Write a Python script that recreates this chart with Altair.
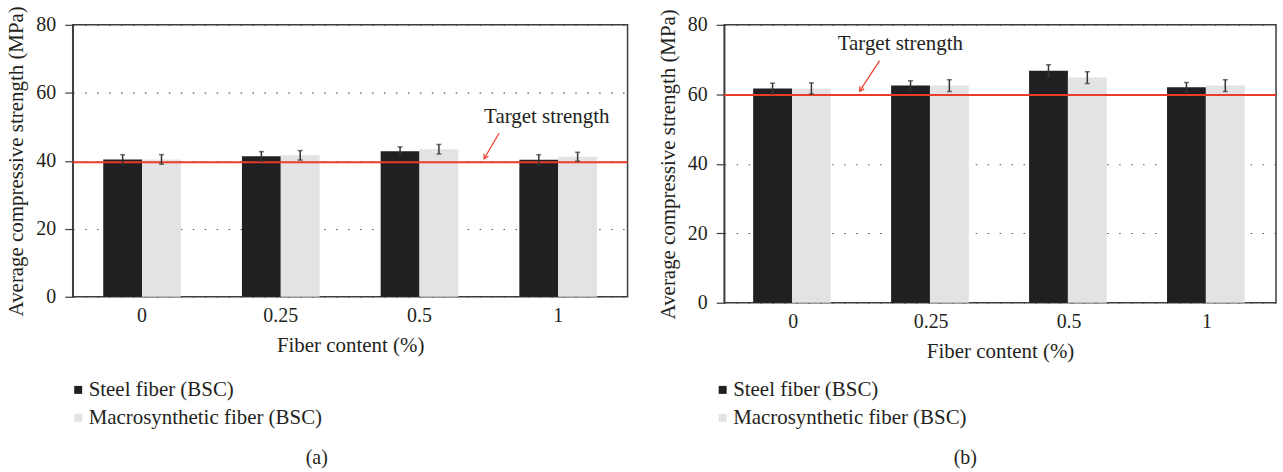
import altair as alt
import pandas as pd

FONT = "Liberation Serif"
TXT = "#231f20"
STEEL_C = "#1f2022"
MACRO_C = "#e3e3e3"
RED = "#ec3b26"

categories = ["0", "0.25", "0.5", "1"]
series_names = ["Steel fiber (BSC)", "Macrosynthetic fiber (BSC)"]

# Panel (a)
a_steel = [40.4, 41.3, 42.8, 40.3]
a_steel_err = [1.4, 1.4, 1.3, 1.5]
a_macro = [40.4, 41.6, 43.4, 41.2]
a_macro_err = [1.4, 1.4, 1.4, 1.3]
a_target = 39.6

# Panel (b)
b_steel = [61.7, 62.5, 66.8, 62.0]
b_steel_err = [1.5, 1.4, 1.7, 1.4]
b_macro = [61.7, 62.5, 64.8, 62.5]
b_macro_err = [1.6, 1.7, 1.7, 1.7]
b_target = 59.8

Y_TITLE = "Average compressive strength (MPa)"
X_TITLE = "Fiber content (%)"


def make_panel(steel, steel_err, macro, macro_err, target, width, height,
               pad_inner, ann, legend_x, legend_y, label, label_x, label_y):
    rows = []
    for name, vals, errs in [(series_names[0], steel, steel_err),
                             (series_names[1], macro, macro_err)]:
        for c, v, e in zip(categories, vals, errs):
            rows.append({"content": c, "series": name, "value": v,
                         "lo": v - e, "hi": v + e})
    df = pd.DataFrame(rows)

    xenc = alt.X("content:N", sort=categories, title=X_TITLE,
                 scale=alt.Scale(paddingInner=pad_inner, paddingOuter=pad_inner / 2),
                 axis=alt.Axis(labelAngle=0, ticks=False, domain=False,
                               labelPadding=9, titlePadding=9, grid=False))
    xoff = alt.XOffset("series:N", sort=series_names)
    yscale = alt.Scale(domain=[0, 80])

    base = alt.Chart(df)
    bars = base.mark_bar().encode(
        x=xenc, xOffset=xoff,
        y=alt.Y("value:Q", scale=yscale, title=Y_TITLE,
                axis=alt.Axis(values=[0, 20, 40, 60, 80], grid=True)),
        color=alt.Color("series:N", sort=series_names,
                        scale=alt.Scale(domain=series_names, range=[STEEL_C, MACRO_C]),
                        legend=alt.Legend(title=None, orient="none",
                                          legendX=legend_x, legendY=legend_y,
                                          symbolType="square", symbolSize=64,
                                          symbolStrokeWidth=0,
                                          labelFont=FONT, labelFontSize=21,
                                          labelColor=TXT, labelOffset=0,
                                          labelLimit=500,
                                          rowPadding=6, padding=0)),
    )
    err = base.mark_rule(color="#333333", strokeWidth=1.5).encode(
        x=xenc, xOffset=xoff,
        y=alt.Y("lo:Q", scale=yscale, title=Y_TITLE), y2="hi:Q")
    cap_hi = base.mark_tick(color="#333333", thickness=1.5, size=5).encode(
        x=xenc, xOffset=xoff, y=alt.Y("hi:Q", scale=yscale, title=Y_TITLE))
    cap_lo = base.mark_tick(color="#333333", thickness=1.5, size=5).encode(
        x=xenc, xOffset=xoff, y=alt.Y("lo:Q", scale=yscale, title=Y_TITLE))

    tdf = pd.DataFrame({"target": [target]})
    target_rule = alt.Chart(tdf).mark_rule(color=RED, strokeWidth=2).encode(
        y=alt.Y("target:Q", scale=yscale, title=Y_TITLE))

    adf = pd.DataFrame({"ty": [ann["ty"]], "ay1": [ann["ay1"]], "ay2": [ann["ay2"]],
                        "txt": ["Target strength"]})
    ann_text = alt.Chart(adf).mark_text(
        font=FONT, fontSize=21, color=TXT, align="left", baseline="middle"
    ).encode(x=alt.value(ann["tx"]),
             y=alt.Y("ty:Q", scale=yscale, title=Y_TITLE), text="txt:N")
    ann_line = alt.Chart(adf).mark_rule(color=RED, strokeWidth=1.2).encode(
        x=alt.value(ann["ax1"]), x2=alt.value(ann["ax2"]),
        y=alt.Y("ay1:Q", scale=yscale, title=Y_TITLE), y2="ay2:Q")
    ann_head = alt.Chart(adf).mark_point(
        shape="M -0.8 -1.4 L 0 0 L 0.8 -1.4", filled=False, color=RED,
        strokeWidth=1.2, size=40, angle=ann["angle"], opacity=1
    ).encode(x=alt.value(ann["ax2"]),
             y=alt.Y("ay2:Q", scale=yscale, title=Y_TITLE))

    ldf = pd.DataFrame({"lab": [label]})
    lab = alt.Chart(ldf).mark_text(
        font=FONT, fontSize=20, color=TXT, align="center", baseline="middle"
    ).encode(x=alt.value(label_x), y=alt.value(label_y), text="lab:N")

    return alt.layer(bars, target_rule, err, cap_hi, cap_lo,
                     ann_line, ann_head, ann_text, lab).properties(
        width=width, height=height)


pa = make_panel(a_steel, a_steel_err, a_macro, a_macro_err, a_target,
                557, 273, 0.44,
                {"tx": 413, "ty": 53, "ax1": 428, "ax2": 413, "ay1": 48.1,
                 "ay2": 40.6, "angle": 30},
                -5, 356, "(a)", 245, 435)
pb = make_panel(b_steel, b_steel_err, b_macro, b_macro_err, b_target,
                554, 279, 0.42,
                {"tx": 114, "ty": 74.5, "ax1": 156, "ax2": 136, "ay1": 69.7,
                 "ay2": 60.9, "angle": 33},
                -12, 356, "(b)", 242, 435)

chart = alt.hconcat(pa, pb, spacing=27).resolve_scale(
    color="independent", y="independent", x="independent"
).configure(
    font=FONT,
    padding={"left": 5, "top": 3, "right": 5, "bottom": 0},
).configure_view(
    stroke="#3d3d3d", strokeWidth=1.5
).configure_axis(
    labelFont=FONT, titleFont=FONT, labelFontSize=20, titleFontSize=21,
    titleFontWeight="normal", labelColor=TXT, titleColor=TXT,
    domainColor="#3d3d3d", tickColor="#3d3d3d", tickSize=8, tickWidth=1.2,
    gridColor="#555555", gridDash=[1.5, 10.5], gridWidth=1.2,
).configure_axisY(
    labelPadding=9, titlePadding=9, domain=True, domainWidth=1.5
)

chart.save("out.html", embed_options={"renderer": "svg", "actions": False})
